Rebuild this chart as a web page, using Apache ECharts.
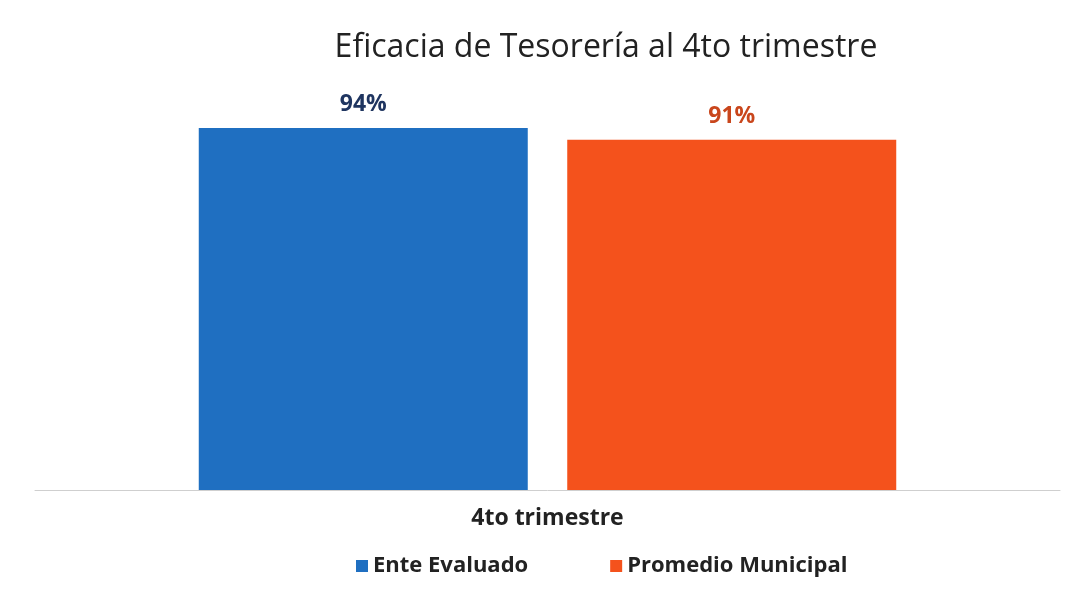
<!DOCTYPE html>
<html><head><meta charset="utf-8">
<script src="https://cdn.jsdelivr.net/npm/echarts@6/dist/echarts.min.js"></script>
<style>html,body{margin:0;padding:0;background:#fff}#c{width:1073px;height:590px}</style>
</head><body><div id="c"></div>
<script>
const categories = ['4to trimestre'];
const seriesNames = ['Ente Evaluado', 'Promedio Municipal'];
const enteEvaluado = [94];
const promedioMunicipal = [91];
const chart = echarts.init(document.getElementById('c'));
chart.setOption({
  backgroundColor: '#ffffff',
  title: {
    text: 'Eficacia de Tesorería al 4to trimestre',
    left: 601, top: 27, textAlign: 'center',
    textStyle: {fontFamily: 'Open Sans', fontSize: 32, fontWeight: 'normal', color: '#222'}
  },
  legend: {
    bottom: 8, left: 351,
    itemWidth: 12, itemHeight: 12, itemGap: 82, icon: 'rect',
    textStyle: {fontFamily: 'Open Sans', fontSize: 22, fontWeight: 'bold', color: '#222'},
    data: seriesNames
  },
  grid: {left: 35, right: 13, top: 105, bottom: 100},
  xAxis: {
    type: 'category', data: categories,
    axisLine: {lineStyle: {color: '#cfcfcf', width: 1}},
    axisTick: {show: false},
    axisLabel: {fontFamily: 'Open Sans', fontSize: 23, fontWeight: 'bold', color: '#222', margin: 17}
  },
  yAxis: {type: 'value', min: 0, max: 100, show: false, splitLine: {show: false}},
  series: [
    {name: seriesNames[0], type: 'bar', data: enteEvaluado, barWidth: 329, barGap: '12%',
     itemStyle: {color: '#1f6fc1'},
     label: {show: true, position: 'top', distance: 12, formatter: '{c}%', fontFamily: 'Open Sans', fontSize: 23, fontWeight: 'bold', color: '#1f3560'}},
    {name: seriesNames[1], type: 'bar', data: promedioMunicipal, barWidth: 329,
     itemStyle: {color: '#f4521c'},
     label: {show: true, position: 'top', distance: 12, formatter: '{c}%', fontFamily: 'Open Sans', fontSize: 23, fontWeight: 'bold', color: '#c9461c'}}
  ]
});
</script></body></html>
